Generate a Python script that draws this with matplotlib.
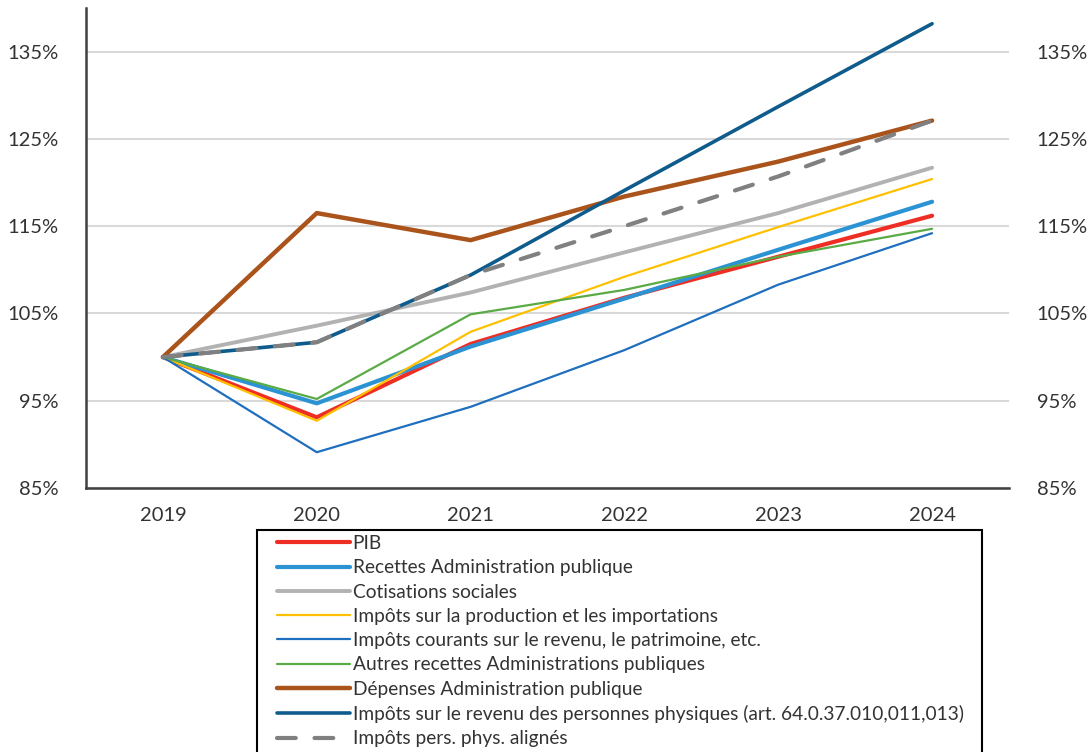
import matplotlib
matplotlib.use("Agg")
import matplotlib.pyplot as plt
from matplotlib.ticker import FuncFormatter
from matplotlib.patches import Rectangle

plt.rcParams['font.family'] = ['Lato', 'DejaVu Sans']

years = ["2019", "2020", "2021", "2022", "2023", "2024"]

pib = [100, 93.1, 101.5, 106.8, 111.5, 116.2]
recettes = [100, 94.7, 101.2, 106.7, 112.3, 117.8]
cotisations = [100, 103.6, 107.4, 112.0, 116.5, 121.7]
impots_production = [100, 92.7, 102.9, 109.2, 114.9, 120.4]
impots_courants = [100, 89.1, 94.3, 100.8, 108.3, 114.2]
autres_recettes = [100, 95.2, 104.9, 107.7, 111.5, 114.7]
depenses = [100, 116.5, 113.4, 118.4, 122.4, 127.1]
impots_pp = [100, 101.7, 109.4, 119.1, 128.7, 138.2]
impots_pp_alignes = [100, 101.7, 109.4, 115.0, 120.7, 127.1]

labels = [
    "PIB",
    "Recettes Administration publique",
    "Cotisations sociales",
    "Impôts sur la production et les importations",
    "Impôts courants sur le revenu, le patrimoine, etc.",
    "Autres recettes Administrations publiques",
    "Dépenses Administration publique",
    "Impôts sur le revenu des personnes physiques (art. 64.0.37.010,011,013)",
    "Impôts pers. phys. alignés",
]

series = [pib, recettes, cotisations, impots_production, impots_courants,
          autres_recettes, depenses, impots_pp, impots_pp_alignes]
styles = [
    dict(color="#ee2e24", lw=3.0),
    dict(color="#2b93d3", lw=3.0),
    dict(color="#b2b2b2", lw=2.8),
    dict(color="#ffc000", lw=1.6),
    dict(color="#1f6fbf", lw=1.6),
    dict(color="#5aab46", lw=1.6),
    dict(color="#aa541c", lw=3.2),
    dict(color="#0f5c8c", lw=2.6),
    dict(color="#808080", lw=3.0, ls=(0, (4.5, 4.5)), dash_capstyle="round"),
]

TXT = "#333333"

fig = plt.figure(figsize=(10.91, 7.52), dpi=100)
ax = fig.add_axes([86/1091, 1-488/752, (1009-86)/1091, (488-8)/752])

x = list(range(len(years)))
handles = []
for s, lab, st in zip(series, labels, styles):
    h, = ax.plot(x, s, label=lab, solid_capstyle="round", **st)
    handles.append(h)

ax.set_xlim(-0.5, 5.5)
ax.set_ylim(85, 140)
ax.set_yticks([85, 95, 105, 115, 125, 135])
ax.yaxis.set_major_formatter(FuncFormatter(lambda v, p: f"{v:.0f}%"))
ax.set_xticks(x)
ax.set_xticklabels(years)
ax.grid(axis="y", color="#d9d9d9", lw=1.5)
ax.set_axisbelow(True)
for sp in ["top", "right"]:
    ax.spines[sp].set_visible(False)
for sp in ["left", "bottom"]:
    ax.spines[sp].set_color("#404040")
    ax.spines[sp].set_linewidth(1.8)
ax.tick_params(axis="y", length=0, labelsize=14.5, pad=20, labelright=True, labelcolor=TXT)
ax.tick_params(axis="x", length=0, labelsize=14.5, pad=14, labelcolor=TXT)

# legend frame (extends past bottom edge as in the reference)
fig.patches.append(Rectangle((257/1091, -0.05), (982-257)/1091, (1-530/752) + 0.05,
                             transform=fig.transFigure, fill=False,
                             edgecolor="black", lw=1.5))

leg = fig.legend(handles=handles, loc="upper left",
                 bbox_to_anchor=(277/1091, 1-535/752), bbox_transform=fig.transFigure,
                 fontsize=13.8, frameon=False,
                 handlelength=3.8, handletextpad=0.15, labelspacing=0.38,
                 borderpad=0.0, borderaxespad=0)
for t in leg.get_texts():
    t.set_color(TXT)

fig.savefig("out.png", dpi=100)
